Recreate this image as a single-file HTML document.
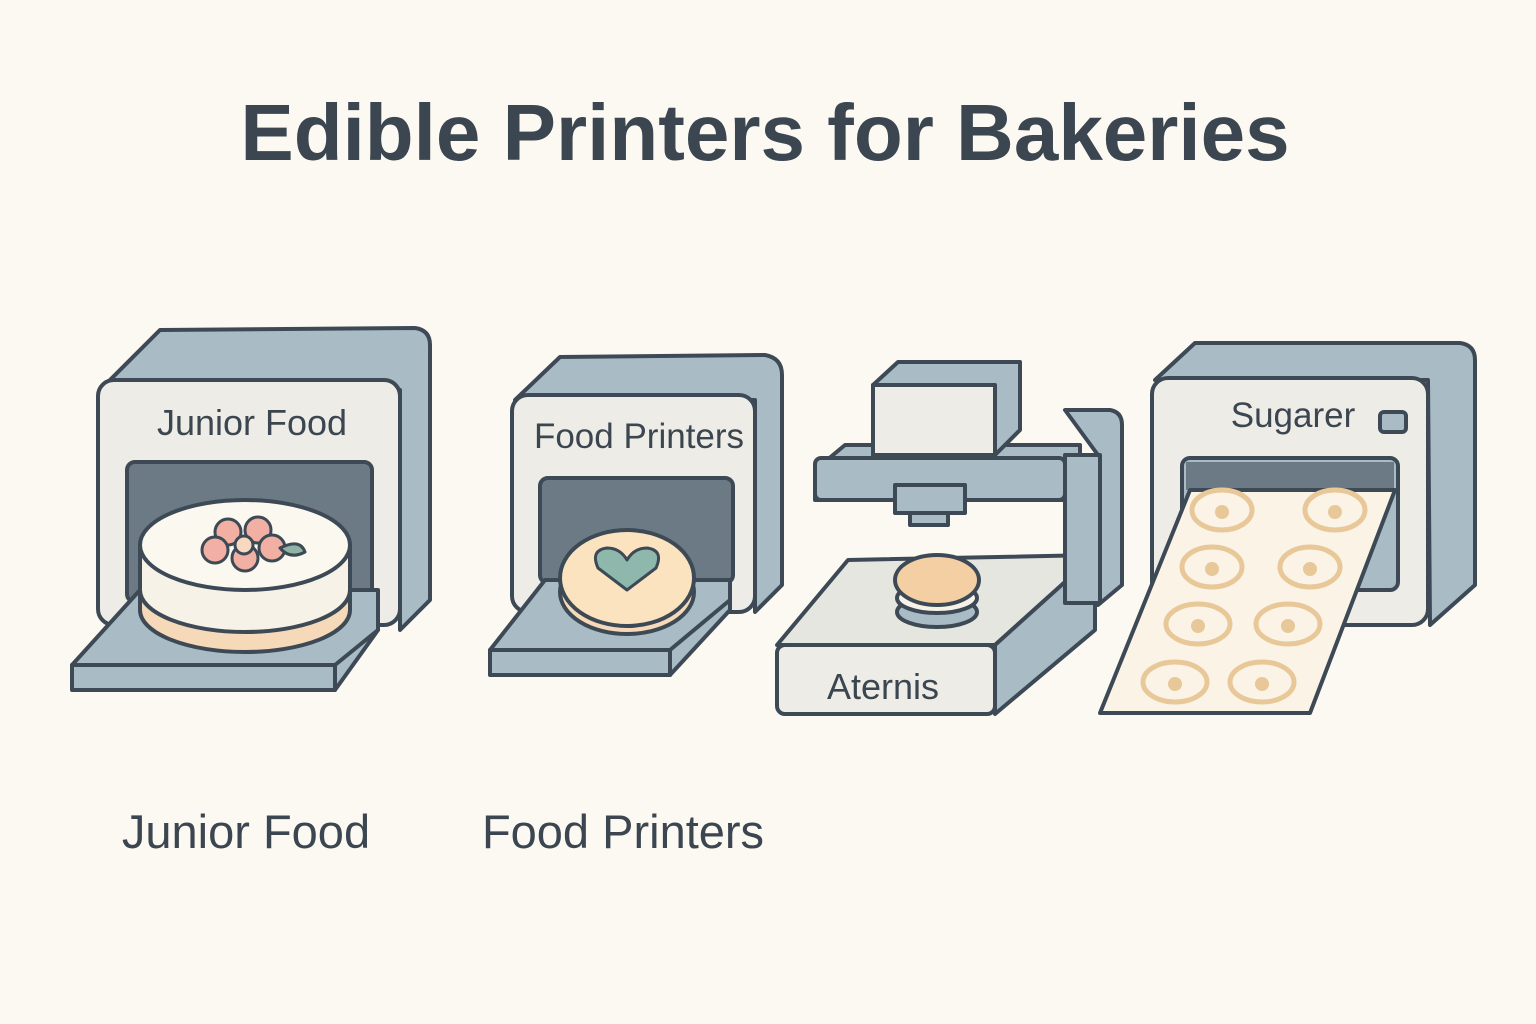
<!DOCTYPE html>
<html><head><meta charset="utf-8"><style>
html,body{margin:0;padding:0;background:#fcf9f2;}
svg{display:block}
text{font-family:"Liberation Sans","DejaVu Sans",sans-serif;fill:#3b4650}
</style></head><body>
<svg width="1536" height="1024" viewBox="0 0 1536 1024" xmlns="http://www.w3.org/2000/svg">
<rect width="1536" height="1024" fill="#fcf9f2"/>
<text x="765" y="160" text-anchor="middle" font-size="80" font-weight="bold">Edible Printers for Bakeries</text>

<g stroke="#3d4a55" stroke-width="4" stroke-linejoin="round" stroke-linecap="round">
<path d="M100 390 L160 330 L415 328 Q430 330 430 345 L430 600 L400 630 L400 390 Z" fill="#a9bcc6"/>
<rect x="98" y="380" width="302" height="245" rx="16" fill="#eeece6"/>
<rect x="127" y="462" width="245" height="140" rx="8" fill="#6b7a84"/>
<path d="M72 665 L140 590 L378 590 L378 630 L335 690 L72 690 Z" fill="#a9bcc6"/>
<path d="M72 665 L335 665 L378 630" fill="none"/>
<line x1="335" y1="665" x2="335" y2="690"/>
<path d="M140 545 L140 610 A105 42 0 0 0 350 610 L350 545 Z" fill="#f5d9b8"/>
<path d="M140 545 L140 590 A105 42 0 0 0 350 590 L350 545 Z" fill="#f6f2e8"/>
<ellipse cx="245" cy="545" rx="105" ry="45" fill="#fbf8f0"/>
<g fill="#f2b0a4" stroke-width="3">
<circle cx="228" cy="532" r="13"/><circle cx="258" cy="530" r="13"/><circle cx="215" cy="550" r="13"/><circle cx="245" cy="558" r="13"/><circle cx="272" cy="548" r="13"/>
<circle cx="244" cy="545" r="9" fill="#f6d9c0"/>
</g>
<path d="M280 548 Q300 538 305 552 Q290 560 280 548 Z" fill="#8fb3a4" stroke-width="3"/>
</g>
<text x="252" y="435" text-anchor="middle" font-size="36">Junior Food</text>

<g stroke="#3d4a55" stroke-width="4" stroke-linejoin="round" stroke-linecap="round">
<path d="M515 400 L560 357 L765 355 Q782 358 782 375 L782 585 L755 612 L755 400 Z" fill="#a9bcc6"/>
<rect x="512" y="395" width="243" height="217" rx="16" fill="#eeece6"/>
<rect x="540" y="478" width="193" height="105" rx="8" fill="#6b7a84"/>
<path d="M490 650 L545 580 L730 580 L730 610 L670 675 L490 675 Z" fill="#a9bcc6"/>
<path d="M490 650 L670 650 L730 600" fill="none"/>
<line x1="670" y1="650" x2="670" y2="675"/>
<ellipse cx="627" cy="592" rx="67" ry="42" fill="#f5d9b8"/>
<ellipse cx="627" cy="578" rx="67" ry="48" fill="#fbe3c0"/>
<path d="M627 590 L598 568 Q590 550 607 548 Q620 548 627 560 Q634 548 647 548 Q664 550 656 568 Z" fill="#8fb8ad" stroke-width="3"/>

<path d="M1065 410 L1110 410 Q1122 412 1122 425 L1122 585 L1098 605 L1098 455 Z" fill="#a9bcc6"/>
<path d="M777 645 L848 560 L1095 555 L995 645 Z" fill="#e6e6e0"/>
<path d="M995 645 L1095 555 L1095 630 L995 714 Z" fill="#a9bcc6"/>
<rect x="777" y="645" width="218" height="69" rx="8" fill="#eeece6"/>
<path d="M815 470 L845 445 L1080 445 L1080 500 L815 500 Z" fill="#a9bcc6"/>
<rect x="815" y="458" width="250" height="42" rx="6" fill="#a9bcc6"/>
<rect x="1065" y="455" width="35" height="148" fill="#a9bcc6"/>
<path d="M873 385 L898 362 L1020 362 L1020 430 L995 455 Z" fill="#a9bcc6"/>
<rect x="873" y="385" width="122" height="70" fill="#eeece6"/>
<rect x="895" y="485" width="70" height="28" fill="#a9bcc6"/>
<rect x="910" y="513" width="38" height="12" fill="#a9bcc6"/>
<ellipse cx="937" cy="612" rx="40" ry="15" fill="#a9bcc6"/>
<ellipse cx="937" cy="598" rx="40" ry="15" fill="#f6f2e8"/>
<ellipse cx="937" cy="580" rx="42" ry="25" fill="#f5cfa4"/>

<path d="M1155 380 L1195 343 L1460 343 Q1475 345 1475 360 L1475 585 L1430 625 L1428 380 Z" fill="#a9bcc6"/>
<rect x="1152" y="378" width="276" height="247" rx="16" fill="#eeece6"/>
<rect x="1380" y="412" width="26" height="20" rx="4" fill="#a9bcc6"/>
<rect x="1182" y="458" width="216" height="132" rx="8" fill="#a9bcc6"/>
<rect x="1186" y="462" width="208" height="28" fill="#6b7a84" stroke="none"/>
<path d="M1100 713 L1190 490 L1395 490 L1310 713 Z" fill="#fbf3e6"/>
<g fill="none" stroke="#e8c898" stroke-width="5">
<ellipse cx="1222" cy="510" rx="30" ry="20"/><ellipse cx="1335" cy="510" rx="30" ry="20"/>
<ellipse cx="1212" cy="567" rx="30" ry="20"/><ellipse cx="1310" cy="567" rx="30" ry="20"/>
<ellipse cx="1198" cy="624" rx="32" ry="20"/><ellipse cx="1288" cy="624" rx="32" ry="20"/>
<ellipse cx="1175" cy="682" rx="32" ry="20"/><ellipse cx="1262" cy="682" rx="32" ry="20"/>
</g>
<g fill="#e8c898" stroke="none">
<circle cx="1222" cy="512" r="7"/><circle cx="1335" cy="512" r="7"/><circle cx="1212" cy="569" r="7"/><circle cx="1310" cy="569" r="7"/>
<circle cx="1198" cy="626" r="7"/><circle cx="1288" cy="626" r="7"/><circle cx="1175" cy="684" r="7"/><circle cx="1262" cy="684" r="7"/>
</g>
</g>
<text x="639" y="448" text-anchor="middle" font-size="35">Food Printers</text>
<text x="883" y="699" text-anchor="middle" font-size="36">Aternis</text>
<text x="1293" y="427" text-anchor="middle" font-size="35">Sugarer</text>

<text x="246" y="848" text-anchor="middle" font-size="47">Junior Food</text>
<text x="623" y="848" text-anchor="middle" font-size="47">Food Printers</text>
</svg>
</body></html>
